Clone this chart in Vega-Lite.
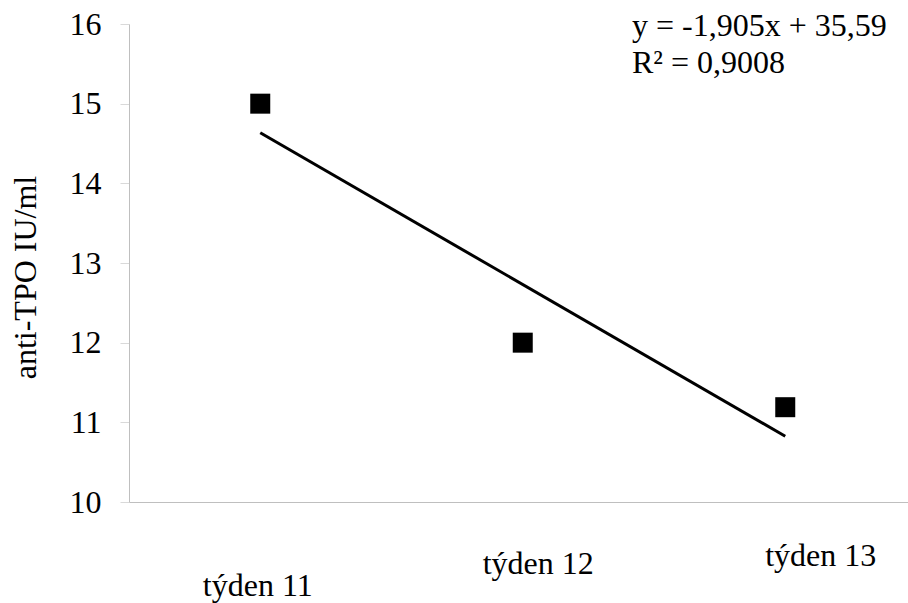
{
  "$schema": "https://vega.github.io/schema/vega-lite/v6.json",
  "width": 779,
  "height": 478,
  "autosize": {"type": "none"},
  "padding": {"left": 129, "top": 24, "right": 0, "bottom": 101},
  "background": "white",
  "config": {
    "view": {"stroke": null},
    "font": "Liberation Serif, Times New Roman, serif"
  },
  "data": {
    "values": [
      {"week": 11, "value": 15},
      {"week": 12, "value": 12},
      {"week": 13, "value": 11.19}
    ]
  },
  "encoding": {
    "x": {
      "field": "week",
      "type": "quantitative",
      "scale": {"domain": [10.5, 13.4676], "nice": false, "zero": false},
      "axis": {
        "title": null,
        "values": [11, 12, 13],
        "labelExpr": "'týden ' + datum.value",
        "grid": false,
        "ticks": false,
        "tickSize": 0,
        "domainColor": "#bfbfbf",
        "domainWidth": 1,
        "labelFont": "Liberation Serif, Times New Roman, serif",
        "labelFontSize": 32,
        "labelColor": "black",
        "labelBaseline": "alphabetic",
        "labelFlush": false,
        "labelOverlap": false,
        "labelPadding": {"expr": "datum.value == 11 ? 93 : datum.value == 12 ? 71 : 63"},
        "labelOffset": {"expr": "datum.value == 11 ? -3 : datum.value == 12 ? 15 : 35"}
      }
    },
    "y": {
      "field": "value",
      "type": "quantitative",
      "scale": {"domain": [10, 16], "nice": false, "zero": false},
      "axis": {
        "title": "anti-TPO IU/ml",
        "titleFont": "Liberation Serif, Times New Roman, serif",
        "titleFontSize": 32,
        "titleFontWeight": "normal",
        "titleColor": "black",
        "titleAngle": -90,
        "titleX": -94,
        "titleY": 253,
        "titleBaseline": "alphabetic",
        "titleAlign": "center",
        "values": [10, 11, 12, 13, 14, 15, 16],
        "grid": false,
        "tickSize": 9,
        "tickColor": "#d9d9d9",
        "domainColor": "#bfbfbf",
        "labelFont": "Liberation Serif, Times New Roman, serif",
        "labelFontSize": 32,
        "labelColor": "black",
        "labelPadding": 19,
        "labelBaseline": "middle"
      }
    }
  },
  "layer": [
    {
      "transform": [{"regression": "value", "on": "week"}],
      "mark": {"type": "line", "color": "black", "strokeWidth": 3, "clip": false}
    },
    {
      "mark": {"type": "point", "shape": "square", "filled": true, "size": 400, "color": "black", "opacity": 1}
    },
    {
      "data": {
        "values": [
          {"week": 12.416, "value": 15.85, "label": "y = -1,905x + 35,59"},
          {"week": 12.416, "value": 15.38, "label": "R² = 0,9008"}
        ]
      },
      "mark": {"type": "text", "align": "left", "baseline": "alphabetic", "font": "Liberation Serif, Times New Roman, serif", "fontSize": 32, "color": "black", "clip": false},
      "encoding": {"text": {"field": "label"}}
    }
  ]
}
